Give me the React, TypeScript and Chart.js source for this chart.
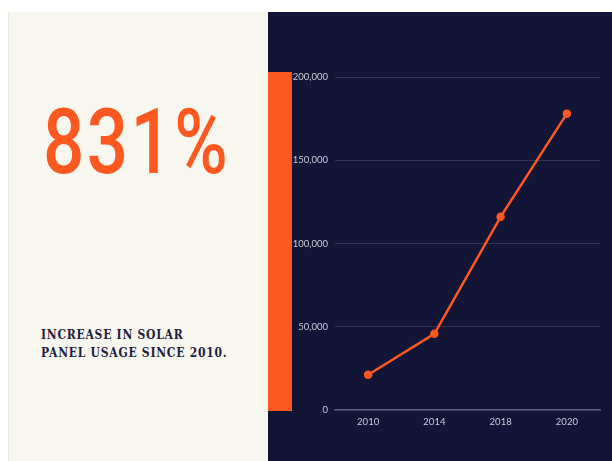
import React, { useEffect, useRef } from "react";
import { Chart, registerables } from "chart.js";

Chart.register(...registerables);

const years = ["2010", "2014", "2018", "2020"];
const installs = [21200, 45800, 116000, 178000];
const yTicks = [0, 50000, 100000, 150000, 200000];
const headline = "831%";
const captionLines = ["INCREASE IN SOLAR", "PANEL USAGE SINCE 2010."];

const ORANGE = "#fe5821";
const NAVY = "#121536";
const CREAM = "#f8f7ef";

export default function App() {
  const ref = useRef<HTMLCanvasElement | null>(null);

  useEffect(() => {
    if (!ref.current) return;
    const chart = new Chart(ref.current, {
      type: "line",
      data: {
        labels: years,
        datasets: [
          {
            data: installs,
            borderColor: ORANGE,
            backgroundColor: ORANGE,
            borderWidth: 2.5,
            pointRadius: 3,
            pointBackgroundColor: ORANGE,
            pointBorderColor: ORANGE,
            tension: 0,
          },
        ],
      },
      options: {
        animation: false,
        responsive: false,
        maintainAspectRatio: false,
        layout: { padding: { top: 65, right: 12, bottom: 0, left: 0 } },
        plugins: { legend: { display: false }, tooltip: { enabled: false } },
        scales: {
          x: {
            offset: true,
            grid: { display: false, drawTicks: false },
            border: { display: true, color: "#55577e", width: 1.5 },
            ticks: {
              color: "#c9cad6",
              font: { family: "Lato", size: 9.5 },
              padding: 6,
            },
            afterFit: (s: any) => {
              s.height = 51;
            },
          },
          y: {
            min: 0,
            max: 200000,
            afterBuildTicks: (s: any) => {
              s.ticks = yTicks.map((v) => ({ value: v }));
            },
            grid: { color: "#2f3156", drawTicks: false, lineWidth: 1 },
            border: { display: false },
            ticks: {
              color: "#c9cad6",
              font: { family: "Lato", size: 9.5 },
              padding: 7,
              callback: (v: any) => Number(v).toLocaleString("en-US"),
            },
            afterFit: (s: any) => {
              s.width = 67;
            },
          },
        },
      },
    });
    return () => chart.destroy();
  }, []);

  return (
    <div
      style={{
        position: "absolute",
        left: 8,
        top: 12,
        width: 604,
        height: 449,
        overflow: "hidden",
      }}
    >
      <div
        style={{
          position: "absolute",
          left: 0,
          top: 0,
          width: 260,
          height: 449,
          background: CREAM,
          borderLeft: "1px solid #e9e7de",
          boxSizing: "border-box",
        }}
      />
      <div
        style={{
          position: "absolute",
          left: 35,
          top: 80,
          color: ORANGE,
          fontFamily: "Roboto",
          fontWeight: 500,
          fontSize: 91,
          lineHeight: "100px",
          letterSpacing: 3,
          transform: "scaleX(0.8)",
          transformOrigin: "left top",
          whiteSpace: "nowrap",
        }}
      >
        {headline}
      </div>
      <div
        style={{
          position: "absolute",
          left: 33,
          top: 315,
          color: "#1e2040",
          fontFamily: "'DejaVu Serif Condensed', 'DejaVu Serif'",
          fontStretch: "condensed",
          fontWeight: 700,
          fontSize: 12,
          lineHeight: "17.5px",
          letterSpacing: 0.75,
          whiteSpace: "nowrap",
        }}
      >
        {captionLines.map((l) => (
          <div key={l}>{l}</div>
        ))}
      </div>
      <div
        style={{
          position: "absolute",
          left: 260,
          top: 0,
          width: 344,
          height: 449,
          background: NAVY,
        }}
      />
      <div
        style={{
          position: "absolute",
          left: 260,
          top: 60,
          width: 24,
          height: 339,
          background: ORANGE,
        }}
      />
      <canvas
        ref={ref}
        width={344}
        height={449}
        style={{ position: "absolute", left: 260, top: 0, width: 344, height: 449 }}
      />
    </div>
  );
}
